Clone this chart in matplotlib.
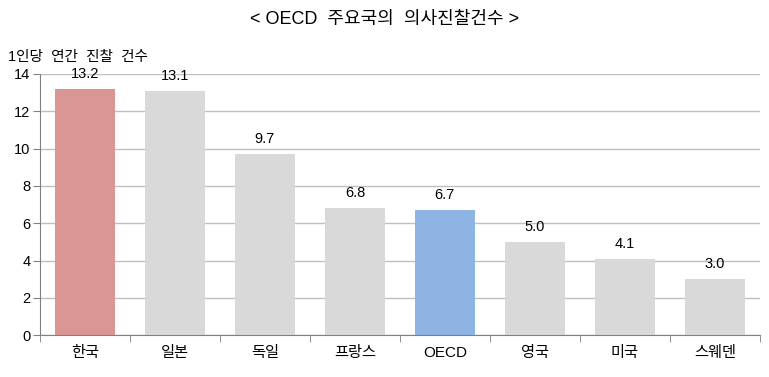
import matplotlib
matplotlib.use("Agg")
import matplotlib.pyplot as plt
import numpy as np

plt.rcParams['font.family'] = ['Liberation Sans', 'Noto Sans CJK KR', 'DejaVu Sans']

countries = ["한국", "일본", "독일", "프랑스", "OECD", "영국", "미국", "스웨덴"]
visits = [13.2, 13.1, 9.7, 6.8, 6.7, 5.0, 4.1, 3.0]
bar_colors = ["#D99694", "#D9D9D9", "#D9D9D9", "#D9D9D9",
              "#8EB4E3", "#D9D9D9", "#D9D9D9", "#D9D9D9"]
yticks = [0, 2, 4, 6, 8, 10, 12, 14]

fig = plt.figure(figsize=(7.69, 3.77), dpi=100)
ax = fig.add_axes([0.052, 0.111, 0.936, 0.693])

x = np.arange(len(countries))
ax.bar(x, visits, width=0.67, color=bar_colors, zorder=2)
for xi, v in zip(x, visits):
    ax.text(xi, v + 0.8, f"{v:.1f}", ha="center", va="center", fontsize=10.5)

ax.set_xlim(-0.5, len(countries) - 0.5)
ax.set_ylim(0, 14)
ax.set_yticks(yticks)
ax.set_yticklabels([str(t) for t in yticks], fontsize=10.5)
ax.grid(axis="y", color="#BFBFBF", linewidth=1.0, zorder=0)
ax.set_axisbelow(True)

# category labels centered, ticks on the boundaries
ax.set_xticks(x)
ax.set_xticklabels(countries, fontsize=11)
ax.tick_params(axis="x", which="major", length=0, pad=8)
ax.set_xticks(np.arange(-0.5, len(countries), 1), minor=True)
ax.tick_params(axis="x", which="minor", length=5, color="#808080", direction="out")
ax.tick_params(axis="y", length=5, color="#808080", pad=2)

for s in ["top", "right"]:
    ax.spines[s].set_visible(False)
for s in ["left", "bottom"]:
    ax.spines[s].set_color("#808080")
    ax.spines[s].set_linewidth(0.8)

fig.text(0.5, 0.947, "< OECD  주요국의  의사진찰건수 >", ha="center", va="center", fontsize=13)
fig.text(0.01, 0.848, "1인당  연간  진찰  건수", ha="left", va="center", fontsize=10.5)

fig.savefig("out.png", dpi=100)
